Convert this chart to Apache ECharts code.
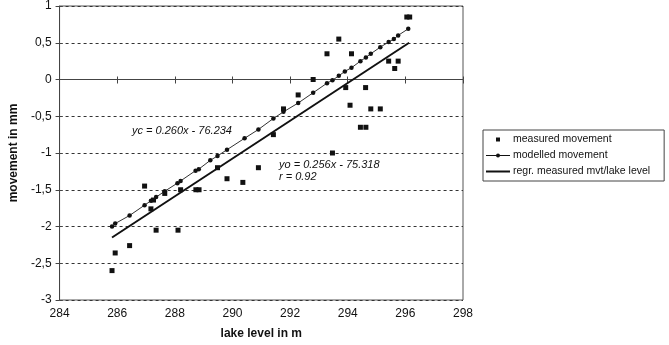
<!DOCTYPE html>
<html>
<head>
<meta charset="utf-8">
<script src="https://cdn.jsdelivr.net/npm/echarts@6/dist/echarts.min.js"></script>
<style>
  html, body { margin: 0; padding: 0; background: #fff; }
  #chart { width: 669px; height: 345px; }
</style>
</head>
<body>
<div id="chart"></div>
<script>
// measured movement (lake level m, movement mm)
const measured = [
  [285.82, -2.60], [285.93, -2.36], [286.43, -2.26], [286.95, -1.45], [287.17, -1.76],
  [287.26, -1.64], [287.35, -2.05], [287.65, -1.55], [288.11, -2.05], [288.2, -1.50],
  [288.73, -1.50], [288.84, -1.50], [289.48, -1.20], [289.81, -1.35], [290.36, -1.40],
  [290.9, -1.20], [291.42, -0.75], [291.77, -0.40], [292.28, -0.21], [292.8, 0.0],
  [293.28, 0.35], [293.47, -1.0], [293.69, 0.55], [293.93, -0.11], [294.08, -0.35],
  [294.13, 0.35], [294.44, -0.65], [294.62, -0.11], [294.63, -0.65], [294.8, -0.40],
  [295.13, -0.40], [295.42, 0.25], [295.63, 0.15], [295.75, 0.25], [296.05, 0.85],
  [296.15, 0.85]
];

// modelled movement
const modelled = [
  [285.82, -2.0], [285.93, -1.96], [286.43, -1.85], [286.95, -1.71], [287.17, -1.65],
  [287.35, -1.60], [287.65, -1.52], [288.09, -1.41], [288.2, -1.38], [288.72, -1.24],
  [288.83, -1.22], [289.23, -1.10], [289.48, -1.04], [289.81, -0.955], [290.42, -0.80],
  [290.9, -0.68], [291.42, -0.53], [291.77, -0.44], [292.28, -0.32], [292.8, -0.18],
  [293.28, -0.05], [293.47, -0.01], [293.69, 0.05], [293.9, 0.11], [294.13, 0.16],
  [294.44, 0.25], [294.63, 0.30], [294.8, 0.35], [295.13, 0.44], [295.42, 0.51],
  [295.6, 0.55], [295.75, 0.60], [296.1, 0.69]
];

// regression measured mvt / lake level, end points
const regression = [[285.82, -2.15], [296.13, 0.50]];

const xTicks = [284, 286, 288, 290, 292, 294, 296, 298];
const yTicks = [-3, -2.5, -2, -1.5, -1, -0.5, 0, 0.5, 1];

const font = 'Liberation Sans, Arial, sans-serif';
const ink = '#111';
const axisCol = '#444';

// legend icons, all in a 24x5 box so they keep their proportions
const iconSquare = 'path://M0,0M24,5M10,0.5h4v4h-4z';
const iconDotLine = 'path://M0,0M24,5M0,2h24v1h-24zM14,2.5a2,2 0 1,1 -4,0a2,2 0 1,1 4,0z';
const iconThick = 'path://M0,0M24,5M0,1.5h24v2h-24z';

const xBase = {
  type: 'value', min: xTicks[0], max: xTicks[xTicks.length - 1], interval: 2
};
const yBase = {
  type: 'value', min: yTicks[0], max: yTicks[yTicks.length - 1], interval: 0.5
};

const chart = echarts.init(document.getElementById('chart'));
chart.setOption({
  animation: false,
  backgroundColor: '#fff',
  textStyle: { fontFamily: font },
  grid: {
    left: 42, right: 206, top: 6, bottom: 43,
    show: true, borderColor: '#555', borderWidth: 1
  },
  legend: {
    orient: 'vertical',
    left: 483, top: 130,
    width: 182,
    padding: [4, 14, 4, 3],
    borderColor: '#444', borderWidth: 1,
    itemWidth: 24, itemHeight: 5, itemGap: 5,
    itemStyle: { color: ink, borderWidth: 0 },
    textStyle: { fontFamily: font, fontSize: 10.5, color: ink, padding: [0, 0, 0, -2] },
    data: [
      { name: 'measured movement', icon: iconSquare },
      { name: 'modelled movement', icon: iconDotLine },
      { name: 'regr. measured mvt/lake level', icon: iconThick }
    ]
  },
  xAxis: [
    Object.assign({}, xBase, {
      name: 'lake level in m', nameLocation: 'middle', nameGap: 28,
      nameTextStyle: { fontWeight: 'bold', fontSize: 12, color: ink, fontFamily: font },
      axisLine: { lineStyle: { color: axisCol } },
      axisTick: { show: true, length: 4, lineStyle: { color: axisCol } },
      axisLabel: { fontSize: 12, color: ink, margin: 8 },
      splitLine: { show: false }
    }),
    // inner half of the crossing ticks
    Object.assign({}, xBase, {
      position: 'bottom', offset: 0,
      axisLine: { show: false },
      axisTick: { show: true, inside: true, length: 3, lineStyle: { color: axisCol } },
      axisLabel: { show: false },
      splitLine: { show: false }
    })
  ],
  yAxis: [
    Object.assign({}, yBase, {
      name: 'movement in mm', nameLocation: 'middle', nameGap: 28,
      nameTextStyle: { fontWeight: 'bold', fontSize: 12, color: ink, fontFamily: font },
      axisLine: { show: true, lineStyle: { color: axisCol } },
      axisTick: { show: true, length: 4, lineStyle: { color: axisCol } },
      axisLabel: {
        fontSize: 12, color: ink, margin: 8,
        formatter: v => String(v).replace('.', ',')
      },
      splitLine: { show: true, lineStyle: { color: '#333', type: [3, 3], width: 1 } }
    }),
    Object.assign({}, yBase, {
      position: 'left', offset: 0,
      axisLine: { show: false },
      axisTick: { show: true, inside: true, length: 3, lineStyle: { color: axisCol } },
      axisLabel: { show: false },
      splitLine: { show: false }
    })
  ],
  series: [
    {
      name: 'measured movement', type: 'scatter', data: measured,
      symbol: 'rect', symbolSize: 5,
      itemStyle: { color: ink, opacity: 1 }, z: 4
    },
    {
      name: 'modelled movement', type: 'line', data: modelled,
      symbol: 'circle', symbolSize: 4.5, showSymbol: true,
      lineStyle: { color: '#333', width: 1 },
      itemStyle: { color: ink, borderWidth: 0 }, z: 3
    },
    {
      name: 'regr. measured mvt/lake level', type: 'line', data: regression,
      symbol: 'none', lineStyle: { color: ink, width: 2 },
      itemStyle: { color: ink }, z: 2
    }
  ],
  graphic: [
    { type: 'text', left: 132, top: 125,
      style: { text: 'yc = 0.260x - 76.234', font: 'italic 11px ' + font, fill: ink } },
    { type: 'text', left: 279, top: 159,
      style: { text: 'yo = 0.256x - 75.318', font: 'italic 11px ' + font, fill: ink } },
    { type: 'text', left: 279, top: 171,
      style: { text: 'r = 0.92', font: 'italic 11px ' + font, fill: ink } }
  ]
});
</script>
</body>
</html>
